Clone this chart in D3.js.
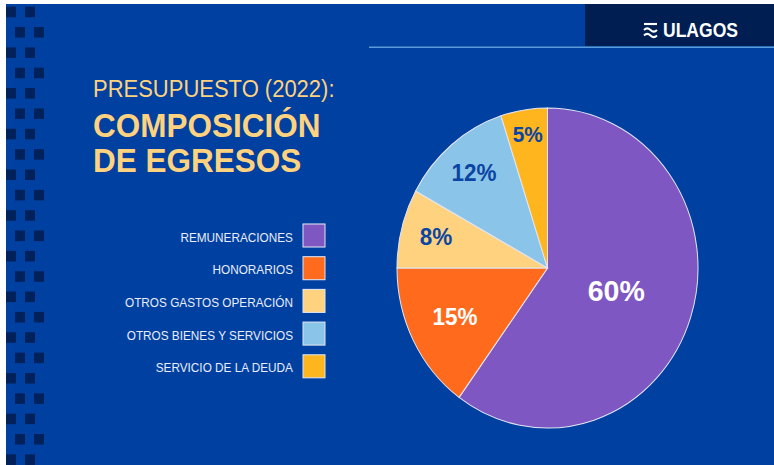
<!DOCTYPE html>
<html>
<head>
<meta charset="utf-8">
<script src="https://cdn.jsdelivr.net/npm/d3@7"></script>
<style>
  body { margin: 0; background: #fff; }
  svg { display: block; font-family: "Liberation Sans", Arial, sans-serif; }
</style>
</head>
<body>
<script>
// presupuesto 2022 - composicion de egresos
var categories = ["REMUNERACIONES", "HONORARIOS", "OTROS GASTOS OPERACIÓN", "OTROS BIENES Y SERVICIOS", "SERVICIO DE LA DEUDA"];
var values = [60, 15, 8, 12, 5];
var colors = ["#7E57C2", "#FF6A1C", "#FFD27F", "#8AC4E8", "#FFB51E"];
var labelColors = ["#ffffff", "#ffffff", "#0B45A3", "#0B45A3", "#0B45A3"];

var W = 774, H = 465;
var SY = 1.063;            // the slide is a bit stretched vertically
function Y(v) { return v / SY; }

var svg = d3.select("body").append("svg")
  .attr("width", W).attr("height", H)
  .attr("viewBox", "0 0 " + W + " " + Y(H))
  .attr("preserveAspectRatio", "none");

// slide background
svg.append("rect").attr("x", 6).attr("y", Y(4)).attr("width", W - 6).attr("height", Y(H))
  .attr("fill", "#0040A0");

// left square pattern
for (let i = 0; i < 23; i++) {
  let off = i % 2 ? 9 : 0;
  [6, 25].forEach(function (x) {
    svg.append("rect")
      .attr("x", x + off).attr("y", Y(6.7 + i * 20.35))
      .attr("width", 10).attr("height", Y(10.5))
      .attr("fill", "#002159");
  });
}

// header box + line
svg.append("rect").attr("x", 585).attr("y", Y(4)).attr("width", W - 585).attr("height", Y(42))
  .attr("fill", "#001E52");
svg.append("line").attr("x1", 369).attr("x2", W).attr("y1", Y(47.3)).attr("y2", Y(47.3))
  .attr("stroke", "#5B9BD8").attr("stroke-width", 1.5);

// logo
var logo = svg.append("g").attr("fill", "none").attr("stroke", "#fff").attr("stroke-width", 2);
logo.append("path").attr("d", "M644," + Y(24) + "H657");
logo.append("path").attr("d", "M644," + Y(30) + "q3.2,-3 6.5,0 t6.5,0");
logo.append("path").attr("d", "M644," + Y(35.5) + "q3.2,-3 6.5,0 t6.5,0");
svg.append("text").attr("x", 663).attr("y", Y(37)).attr("fill", "#fff")
  .attr("font-size", 18.5).attr("font-weight", "bold")
  .attr("textLength", 75).attr("lengthAdjust", "spacingAndGlyphs")
  .text("ULAGOS");

// title
svg.append("text").attr("x", 93).attr("y", Y(96.7)).attr("fill", "#FFD27F")
  .attr("font-size", 22).text("PRESUPUESTO (2022):");
svg.append("text").attr("x", 93).attr("y", Y(137)).attr("fill", "#FFD27F")
  .attr("font-size", 31.5).attr("font-weight", "bold").text("COMPOSICIÓN");
svg.append("text").attr("x", 93).attr("y", Y(172)).attr("fill", "#FFD27F")
  .attr("font-size", 31.5).attr("font-weight", "bold").text("DE EGRESOS");

// legend
var ly = d3.scaleLinear().domain([0, 1]).range([224, 256.7]);
var legend = svg.selectAll("g.leg").data(categories).enter().append("g").attr("class", "leg");
legend.append("rect")
  .attr("x", 303).attr("y", function (d, i) { return Y(ly(i)); })
  .attr("width", 22).attr("height", Y(23))
  .attr("fill", function (d, i) { return colors[i]; })
  .attr("stroke", "#dfe5f2").attr("stroke-width", 1);
legend.append("text")
  .attr("x", 293).attr("y", function (d, i) { return Y(ly(i) + 17.7); })
  .attr("text-anchor", "end").attr("fill", "#E8EDF6").attr("font-size", 11.8)
  .text(function (d) { return d; });

// pie
var cx = 547.5, cy = Y(268), r = 150.5;
var pie = d3.pie().sort(null).value(function (d) { return d; });
var arcs = pie(values);
var arc = d3.arc().innerRadius(0).outerRadius(r);
var g = svg.append("g").attr("transform", "translate(" + cx + "," + cy + ")");
g.selectAll("path").data(arcs).enter().append("path")
  .attr("d", arc)
  .attr("fill", function (d, i) { return colors[i]; })
  .attr("stroke", "#e4e6f2").attr("stroke-width", 1);

function labelFrac(v) { return v >= 50 ? 0.48 : v < 6 ? 0.84 : v >= 15 ? 0.69 : 0.765; }
function labelSize(v) { return v >= 50 ? 28.5 : v < 6 ? 20.8 : 22.5; }

g.selectAll("text").data(arcs).enter().append("text")
  .attr("transform", function (d) {
    var lr = r * labelFrac(d.value);
    var c = d3.arc().innerRadius(lr).outerRadius(lr).centroid(d);
    return "translate(" + c[0] + "," + c[1] + ")";
  })
  .attr("text-anchor", "middle").attr("dy", "0.3em")
  .attr("font-weight", "bold")
  .attr("font-size", function (d) { return labelSize(d.value); })
  .attr("fill", function (d, i) { return labelColors[i]; })
  .text(function (d) { return d.value + "%"; });
</script>
</body>
</html>
